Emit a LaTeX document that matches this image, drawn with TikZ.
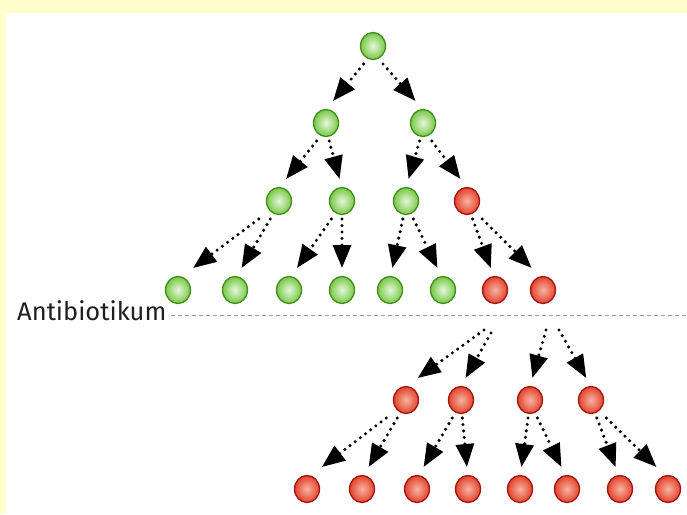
\documentclass[tikz,border=0pt]{standalone}
\usepackage{fontspec}
\setsansfont{Fira Sans}
\usetikzlibrary{arrows.meta,calc,shapes.geometric}

\definecolor{paper}{HTML}{FFFFCC}
\definecolor{gin}{HTML}{E6F7DC}
\definecolor{gout}{HTML}{78C846}
\definecolor{grim}{HTML}{3F8E1C}
\definecolor{rin}{HTML}{F7B4A2}
\definecolor{rout}{HTML}{E2432C}
\definecolor{rrim}{HTML}{A3140E}

\tikzset{
  cell/.style={ellipse, minimum width=25pt, minimum height=27pt, inner sep=0pt, line width=1.3pt},
  alive/.style={cell, draw=grim, shade, inner color=gin, outer color=gout},
  resist/.style={cell, draw=rrim, shade, inner color=rin, outer color=rout},
  spread/.style={line width=3.4pt, line cap=round, dash pattern=on 0pt off 6.5pt,
    -{Triangle[length=23pt,width=18pt]}},
  cutline/.style={draw=black!40, line width=0.7pt, dash pattern=on 4pt off 3pt}
}

% parent-to-child division arrow
\newcommand\spawn[2]{\draw[spread] let \p1=(#1), \p2=(#2) in
  ($(\p1)+({0.2*(\x2-\x1)},-18pt)$) -- ($(\p2)+({0.15*(\x1-\x2)},22pt)$);}
% arrow from a free start point to a child
\newcommand\feed[2]{\draw[spread] let \p1=(#1), \p2=(#2) in
  (\p1) -- ($(\p2)+({0.15*(\x1-\x2)},22pt)$);}

\begin{document}
\begin{tikzpicture}[x=1pt,y=-1pt]
  \useasboundingbox (0,0) rectangle (687,514);
  \fill[paper] (0,0) rectangle (687,514);
  \fill[white] (6,13) rectangle (687,514);

  % generation 0
  \node[alive] (n0) at (373,46) {};
  % generation 1
  \node[alive] (n1a) at (326,123) {};
  \node[alive] (n1b) at (423,123) {};
  % generation 2
  \node[alive]  (n2a) at (279,201) {};
  \node[alive]  (n2b) at (342,201) {};
  \node[alive]  (n2c) at (406,201) {};
  \node[resist] (n2d) at (467,201) {};
  % generation 3
  \node[alive]  (n3a) at (178,290) {};
  \node[alive]  (n3b) at (235,290) {};
  \node[alive]  (n3c) at (289,290) {};
  \node[alive]  (n3d) at (342,290) {};
  \node[alive]  (n3e) at (390,290) {};
  \node[alive]  (n3f) at (443,290) {};
  \node[resist] (n3g) at (495,290) {};
  \node[resist] (n3h) at (543,290) {};
  % generation 4
  \node[resist] (n4a) at (406,400) {};
  \node[resist] (n4b) at (461,400) {};
  \node[resist] (n4c) at (530,400) {};
  \node[resist] (n4d) at (591,400) {};
  % generation 5
  \node[resist] (n5a) at (307,489) {};
  \node[resist] (n5b) at (362,489) {};
  \node[resist] (n5c) at (417,489) {};
  \node[resist] (n5d) at (468,489) {};
  \node[resist] (n5e) at (520,489) {};
  \node[resist] (n5f) at (567,489) {};
  \node[resist] (n5g) at (620,489) {};
  \node[resist] (n5h) at (668,489) {};

  % antibiotic treatment line
  \node[anchor=base west, inner sep=0pt, font=\sffamily\fontsize{25.5}{30}\selectfont, text=black!88]
    (ab) at (17,320) {Antibiotikum};
  \coordinate (abend) at (687,315);
  \draw[cutline] (ab.east |- abend) ++(4,0) -- (abend);

  % divisions
  \spawn{n0}{n1a} \spawn{n0}{n1b}
  \spawn{n1a}{n2a} \spawn{n1a}{n2b}
  \spawn{n1b}{n2c} \spawn{n1b}{n2d}
  \spawn{n2a}{n3a} \spawn{n2a}{n3b}
  \spawn{n2b}{n3c} \spawn{n2b}{n3d}
  \spawn{n2c}{n3e} \spawn{n2c}{n3f}
  \spawn{n2d}{n3g} \spawn{n2d}{n3h}

  % survivors divide below the line
  \coordinate (s1) at (484,330);
  \coordinate (s2) at (491,333);
  \coordinate (s3) at (546,330);
  \coordinate (s4) at (559,330);
  \feed{s1}{n4a} \feed{s2}{n4b}
  \feed{s3}{n4c} \feed{s4}{n4d}

  \spawn{n4a}{n5a} \spawn{n4a}{n5b}
  \spawn{n4b}{n5c} \spawn{n4b}{n5d}
  \spawn{n4c}{n5e} \spawn{n4c}{n5f}
  \spawn{n4d}{n5g} \spawn{n4d}{n5h}
\end{tikzpicture}
\end{document}
